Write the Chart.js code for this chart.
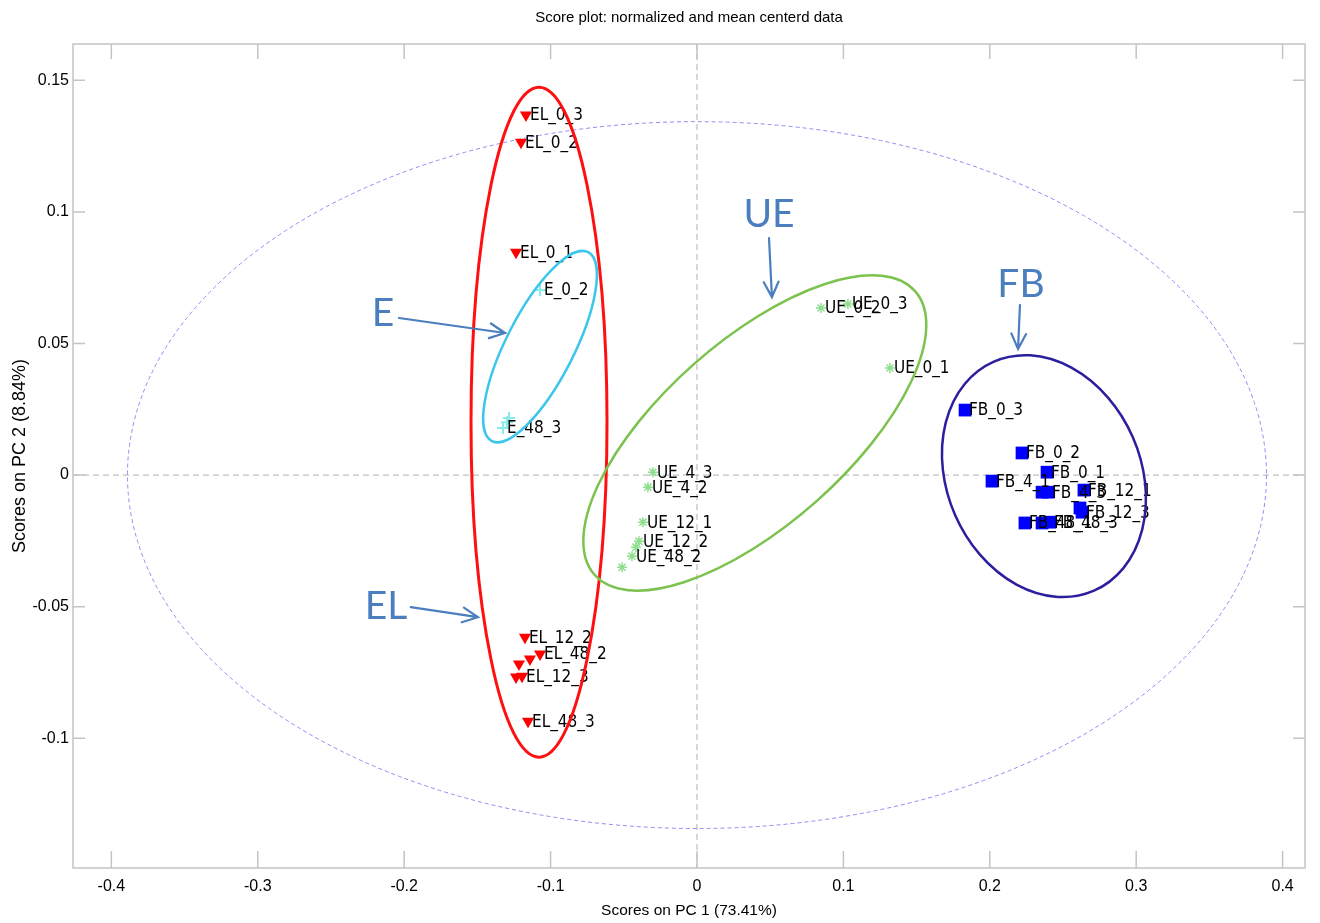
<!DOCTYPE html>
<html>
<head>
<meta charset="utf-8">
<script src="https://cdn.jsdelivr.net/npm/chart.js@4.4.0/dist/chart.umd.min.js"></script>
<style>
  html, body { margin: 0; padding: 0; background: #fff; }
</style>
</head>
<body>
<canvas id="scorePlot" width="1320" height="923"></canvas>
<script>
// PCA scores (PC 1, PC 2); '' = point without a visible label
const elNames = ['EL_0_1', 'EL_0_2', 'EL_0_3', 'EL_12_2', 'EL_48_2', '', '', '', 'EL_12_3', 'EL_48_3'];
const elPC1 = [-0.1236, -0.1202, -0.1168, -0.1175, -0.1072, -0.1141, -0.1216, -0.1236, -0.1195, -0.1154];
const elPC2 = [0.0847, 0.1265, 0.1368, -0.0616, -0.0680, -0.0699, -0.0718, -0.0767, -0.0764, -0.0935];

const eNames = ['E_0_2', 'E_48_3', '', ''];
const ePC1 = [-0.1072, -0.1325, -0.1298, -0.1284];
const ePC2 = [0.0703, 0.0179, 0.0201, 0.0217];

const ueNames = ['UE_0_1', 'UE_0_2', 'UE_0_3', 'UE_4_3', 'UE_4_2', 'UE_12_1', 'UE_12_2', '', 'UE_48_2', ''];
const uePC1 = [0.1318, 0.0847, 0.1031, -0.0301, -0.0335, -0.0369, -0.0396, -0.0417, -0.0444, -0.0512];
const uePC2 = [0.0407, 0.0635, 0.0650, 0.0011, -0.0046, -0.0179, -0.0251, -0.0274, -0.0308, -0.0350];

const fbNames = ['FB_0_3', 'FB_0_2', 'FB_0_1', 'FB_4_1', '', 'FB_4_3', 'FB_12_1', '', 'FB_12_3', 'FB_48_1', '', 'FB_48_3'];
const fbPC1 = [0.1831, 0.2220, 0.2391, 0.2015, 0.2357, 0.2398, 0.2643, 0.2616, 0.2630, 0.2240, 0.2357, 0.2411];
const fbPC2 = [0.0247, 0.0084, 0.0011, -0.0023, -0.0065, -0.0065, -0.0057, -0.0125, -0.0141, -0.0182, -0.0182, -0.0179];

const xTicks = [-0.4, -0.3, -0.2, -0.1, 0, 0.1, 0.2, 0.3, 0.4];
const yTicks = [-0.1, -0.05, 0, 0.05, 0.1, 0.15];

const plotTitle = 'Score plot: normalized and mean centerd data';

const SANS = "'Liberation Sans', Arial, sans-serif";
const NARROW = "'DejaVu Sans Condensed', 'Liberation Sans', sans-serif";
const NOTE_BLUE = '#4a7ebf';

// hand drawn group rings: centre in data units, radii in px, rotation in degrees
const rings = [
  { cx: -0.1079, cy: 0.0201, rx: 68, ry: 335, rot: 0, color: '#ff1010', width: 3 },
  { cx: -0.1072, cy: 0.0488, rx: 106, ry: 34, rot: -63, color: '#3cc6ec', width: 2.5 },
  { cx: 0.0395, cy: 0.0160, rx: 214, ry: 92, rot: -41.5, color: '#7cc24e', width: 2.5 },
  { cx: 0.2370, cy: -0.0004, rx: 97, ry: 125, rot: -23.6, color: '#2c1f9e', width: 2.5 }
];
// group notes with arrows (data units)
const notes = [
  { text: 'E', x: -0.2145, y: 0.0616, from: [-0.2035, 0.0597], to: [-0.1311, 0.0540] },
  { text: 'EL', x: -0.2124, y: -0.0498, from: [-0.1955, -0.0502], to: [-0.1496, -0.0540] },
  { text: 'UE', x: 0.0492, y: 0.0992, from: [0.0492, 0.0900], to: [0.0512, 0.0676] },
  { text: 'FB', x: 0.2213, y: 0.0726, from: [0.2206, 0.0646], to: [0.2193, 0.0479] }
];

function toXY(xs, ys) {
  return xs.map((x, i) => ({ x: x, y: ys[i] }));
}
function fmt(v) {
  return String(Math.round(v * 100) / 100);
}

const overlay = {
  id: 'overlay',
  beforeDatasetsDraw(chart) {
    const { ctx, chartArea: a, scales: { x, y } } = chart;
    ctx.save();
    // zero lines
    ctx.strokeStyle = '#b0b0b0';
    ctx.lineWidth = 1;
    ctx.setLineDash([6, 4]);
    ctx.beginPath();
    ctx.moveTo(x.getPixelForValue(0), a.top);
    ctx.lineTo(x.getPixelForValue(0), a.bottom);
    ctx.moveTo(a.left, y.getPixelForValue(0));
    ctx.lineTo(a.right, y.getPixelForValue(0));
    ctx.stroke();
    // 95% confidence limit
    const cx = x.getPixelForValue(0), cy = y.getPixelForValue(0);
    const rx = x.getPixelForValue(0.389) - cx, ry = cy - y.getPixelForValue(0.1343);
    ctx.strokeStyle = '#8c8cf4';
    ctx.setLineDash([4, 3]);
    ctx.beginPath();
    ctx.ellipse(cx, cy, rx, ry, 0, 0, Math.PI * 2);
    ctx.stroke();
    ctx.restore();
  },
  afterDatasetsDraw(chart) {
    const { ctx, chartArea: a, scales: { x, y } } = chart;
    ctx.save();
    // title, centred over the plot box
    ctx.fillStyle = '#000';
    ctx.font = '15px ' + SANS;
    ctx.textAlign = 'center';
    ctx.textBaseline = 'middle';
    ctx.fillText(plotTitle, (a.left + a.right) / 2, 18);

    // box and inward ticks
    ctx.strokeStyle = '#c4c4c4';
    ctx.lineWidth = 1.5;
    ctx.strokeRect(a.left, a.top, a.right - a.left, a.bottom - a.top);
    ctx.beginPath();
    xTicks.forEach(v => {
      const px = x.getPixelForValue(v);
      ctx.moveTo(px, a.bottom); ctx.lineTo(px, a.bottom - 17);
      ctx.moveTo(px, a.top); ctx.lineTo(px, a.top + 15);
    });
    yTicks.forEach(v => {
      const py = y.getPixelForValue(v);
      ctx.moveTo(a.left, py); ctx.lineTo(a.left + 12, py);
      ctx.moveTo(a.right, py); ctx.lineTo(a.right - 12, py);
    });
    ctx.stroke();

    // point labels
    ctx.fillStyle = '#000';
    ctx.font = '17px ' + NARROW;
    ctx.textAlign = 'left';
    ctx.textBaseline = 'middle';
    [elNames, eNames, ueNames, fbNames].forEach((names, d) => {
      const meta = chart.getDatasetMeta(d);
      names.forEach((n, i) => {
        if (!n) return;
        const p = meta.data[i];
        ctx.fillText(n, p.x + 4, p.y + 1);
      });
    });

    // group rings
    rings.forEach(r => {
      ctx.strokeStyle = r.color;
      ctx.lineWidth = r.width;
      ctx.beginPath();
      ctx.ellipse(x.getPixelForValue(r.cx), y.getPixelForValue(r.cy), r.rx, r.ry, r.rot * Math.PI / 180, 0, Math.PI * 2);
      ctx.stroke();
    });

    // notes and arrows
    ctx.font = '39px Lato, "Open Sans", sans-serif';
    ctx.textAlign = 'center';
    ctx.textBaseline = 'middle';
    ctx.fillStyle = NOTE_BLUE;
    ctx.strokeStyle = NOTE_BLUE;
    ctx.lineWidth = 2.2;
    ctx.lineCap = 'round';
    notes.forEach(n => {
      ctx.fillText(n.text, x.getPixelForValue(n.x), y.getPixelForValue(n.y));
      const x1 = x.getPixelForValue(n.from[0]), y1 = y.getPixelForValue(n.from[1]);
      const x2 = x.getPixelForValue(n.to[0]), y2 = y.getPixelForValue(n.to[1]);
      const ang = Math.atan2(y2 - y1, x2 - x1);
      const h = 17, spread = 0.45;
      ctx.beginPath();
      ctx.moveTo(x1, y1); ctx.lineTo(x2, y2);
      ctx.moveTo(x2 - h * Math.cos(ang - spread), y2 - h * Math.sin(ang - spread));
      ctx.lineTo(x2, y2);
      ctx.lineTo(x2 - h * Math.cos(ang + spread), y2 - h * Math.sin(ang + spread));
      ctx.stroke();
    });
    ctx.restore();
  }
};

Chart.defaults.font.family = SANS;
Chart.defaults.color = '#000';

new Chart(document.getElementById('scorePlot'), {
  type: 'scatter',
  data: {
    datasets: [
      { label: 'EL', data: toXY(elPC1, elPC2), pointStyle: 'triangle', pointRotation: 180, pointRadius: 7,
        pointBackgroundColor: '#ff0000', pointBorderColor: '#ff0000', pointBorderWidth: 0 },
      { label: 'E', data: toXY(ePC1, ePC2), pointStyle: 'cross', pointRadius: 6,
        pointBorderColor: '#86ecec', pointBorderWidth: 2 },
      { label: 'UE', data: toXY(uePC1, uePC2), pointStyle: 'star', pointRadius: 5,
        pointBorderColor: '#8ede8e', pointBorderWidth: 1.5 },
      { label: 'FB', data: toXY(fbPC1, fbPC2), pointStyle: 'rect', pointRadius: 9,
        pointBackgroundColor: '#0000ff', pointBorderColor: '#0000ff', pointBorderWidth: 0 }
    ]
  },
  options: {
    responsive: false,
    devicePixelRatio: 1,
    animation: false,
    layout: { padding: { left: 0, right: 15, top: 44, bottom: 0 } },
    plugins: {
      legend: { display: false },
      tooltip: { enabled: false },
      title: { display: false }
    },
    scales: {
      x: {
        type: 'linear',
        min: -0.4262,
        max: 0.4153,
        afterBuildTicks: s => { s.ticks = xTicks.map(v => ({ value: v })); },
        afterFit: s => { s.height = 55; },
        grid: { display: false, drawTicks: false },
        border: { display: false },
        ticks: { padding: 9, font: { size: 16 }, color: '#000', maxRotation: 0, callback: v => fmt(v) },
        title: { display: true, text: 'Scores on PC 1 (73.41%)', color: '#000', font: { size: 15.5 }, padding: { top: 0, bottom: 3 } }
      },
      y: {
        type: 'linear',
        min: -0.1493,
        max: 0.1638,
        afterBuildTicks: s => { s.ticks = yTicks.map(v => ({ value: v })); },
        afterFit: s => { s.width = 73; },
        grid: { display: false, drawTicks: false },
        border: { display: false },
        ticks: { padding: 4, font: { size: 16 }, color: '#000', callback: v => fmt(v) },
        title: { display: true, text: 'Scores on PC 2 (8.84%)', color: '#000', font: { size: 18 }, padding: { top: 9, bottom: 0 } }
      }
    }
  },
  plugins: [overlay]
});
</script>
</body>
</html>
